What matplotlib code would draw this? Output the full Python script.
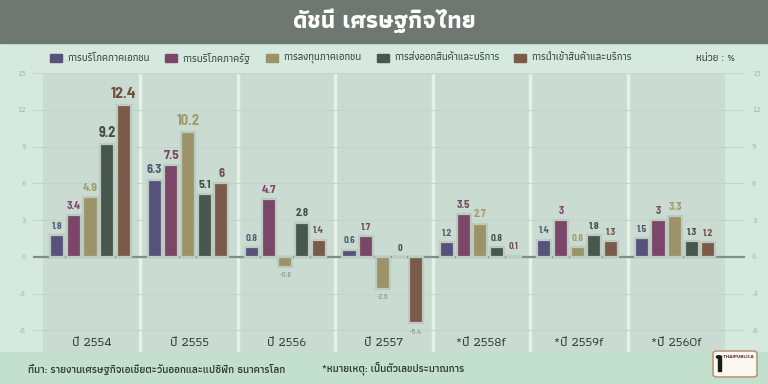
import matplotlib
matplotlib.use("Agg")
import matplotlib.pyplot as plt
import numpy as np
from matplotlib.patches import Rectangle, FancyBboxPatch, Circle

# ---- data ----
years = ["ปี 2554", "ปี 2555", "ปี 2556", "ปี 2557", "*ปี 2558f", "*ปี 2559f", "*ปี 2560f"]
series = ["การบริโภคภาคเอกชน", "การบริโภคภาครัฐ", "การลงทุนภาคเอกชน",
          "การส่งออกสินค้าและบริการ", "การนำเข้าสินค้าและบริการ"]
private_cons = [1.8, 6.3, 0.8, 0.6, 1.2, 1.4, 1.5]
public_cons = [3.4, 7.5, 4.7, 1.7, 3.5, 3.0, 3.0]
private_inv = [4.9, 10.2, -0.8, -2.6, 2.7, 0.8, 3.3]
exports = [9.2, 5.1, 2.8, 0.0, 0.8, 1.8, 1.3]
imports = [12.4, 6.0, 1.4, -5.4, 0.1, 1.3, 1.2]
yticks = [-6, -3, 0, 3, 6, 9, 12, 15]

values = [private_cons, public_cons, private_inv, exports, imports]
colors = ["#57527b", "#7b4667", "#9c9468", "#48574e", "#7b5a4a"]
label_colors = ["#4f5873", "#7b4667", "#a39a6c", "#3f4d45", "#6f5142"]

thai = ["Athiti", "DejaVu Sans"]
num_font = ["Barlow Semi Condensed", "Athiti", "DejaVu Sans"]

W, H = 768, 384
fig = plt.figure(figsize=(7.68, 3.84), dpi=100)
fig.patch.set_facecolor("#d5e9de")

def fx(px):
    return px / W

def fy(py):
    return 1 - py / H

# title banner
fig.patches.append(Rectangle((0, fy(43)), 1, 43 / H, transform=fig.transFigure,
                             color="#6e7870", zorder=0))
fig.text(0.5, fy(21), "ดัชนี เศรษฐกิจไทย", family=thai, weight="bold",
         fontsize=17, color="white", ha="center", va="center")

# footer band
fig.patches.append(Rectangle((0, 0), 1, 32 / H, transform=fig.transFigure,
                             color="#c2e0cd", zorder=0))
fig.text(fx(28), fy(369), "ที่มา: รายงานเศรษฐกิจเอเชียตะวันออกและแปซิฟิก ธนาคารโลก",
         family=thai, weight="semibold", fontsize=7.6, color="#2f3934", va="center")
fig.text(fx(322), fy(369), "*หมายเหตุ: เป็นตัวเลขประมาณการ",
         family=thai, weight="semibold", fontsize=7.6, color="#2f3934", va="center")

# logo
fig.patches.append(FancyBboxPatch((fx(713), fy(377)), fx(44), 26 / H,
                                  boxstyle="round,pad=0,rounding_size=0.006",
                                  transform=fig.transFigure, facecolor="#fbf8f2",
                                  edgecolor="#b89878", lw=1.2, zorder=2))
fig.patches.append(Circle((fx(719), fy(357)), 2.6 / W, transform=fig.transFigure,
                          color="#1a1a1a", zorder=3))
fig.patches.append(Rectangle((fx(717.5), fy(371)), 3 / W, 13 / H,
                             transform=fig.transFigure, color="#1a1a1a", zorder=3))
fig.text(fx(723), fy(357), "THAIPUBLICA", fontsize=3, weight="bold",
         color="#6b2a2a", va="center", zorder=4)

# legend
sq_x = [50, 165, 266, 377, 514]
for i, name in enumerate(series):
    fig.patches.append(Rectangle((fx(sq_x[i]), fy(62)), 12 / W, 8 / H,
                                 transform=fig.transFigure, color=colors[i]))
    fig.text(fx(sq_x[i] + 17), fy(58), name, family=thai, weight="medium",
             fontsize=7.4, color="#34403a", va="center")
fig.text(fx(735), fy(58), "หน่วย : %", family=thai, weight="medium",
         fontsize=7.6, color="#34403a", va="center", ha="right")

# chart axes
ax = fig.add_axes([fx(33), fy(352), fx(712), (352 - 73) / H])
ax.set_facecolor("none")
n = len(years)
x = np.arange(n)
ax.set_xlim(-0.5 - 10 / 97.4, n - 0.5 + 20 / 97.4)
ax.set_ylim(-7.76, 15.0)

for i in range(n):
    ax.axvspan(i - 0.5, i + 0.5, color="#cadcd1", lw=0, zorder=0)
for i in range(1, n):
    ax.axvline(i - 0.5, color="#e6f1ea", lw=2.5, zorder=0.5)

for t in yticks:
    if t != 0:
        ax.axhline(t, color="#c0d6c8", lw=0.8, zorder=1)
ax.axhline(0, color="#7c9086", lw=1.6, zorder=1.5)

bw = 0.145
step = 0.171
for k, vals in enumerate(values):
    xs = x + (k - 2) * step - 0.012
    ax.bar(xs, vals, width=bw, color=colors[k], edgecolor="#bccbc2",
           linewidth=1.6, zorder=3)
    for xi, v in zip(xs, vals):
        if v < 0:
            ax.text(xi, v - 0.45, f"{v:g}", ha="center", va="top", fontsize=5.5,
                    family=num_font, color="#76867c", zorder=4)
        else:
            fs = 6.5 + 0.4 * v
            ax.text(xi, v + 0.35, f"{v:g}", ha="center", va="bottom", fontsize=fs,
                    family=num_font, weight="bold", color=label_colors[k], zorder=4)

for i, yl in enumerate(years):
    ax.text(i, -7.0, yl, ha="center", va="center", family=thai, weight="medium",
            fontsize=9.5, color="#35413b", zorder=4)

ax.set_xticks([])
ax.set_yticks(yticks)
ax.set_yticklabels([str(t) for t in yticks])
ax.tick_params(axis="y", length=0, pad=5, labelsize=5, labelcolor="#a3b6aa",
               labelright=True)
for s in ax.spines.values():
    s.set_visible(False)

fig.savefig("out.png", dpi=100, facecolor=fig.get_facecolor())
